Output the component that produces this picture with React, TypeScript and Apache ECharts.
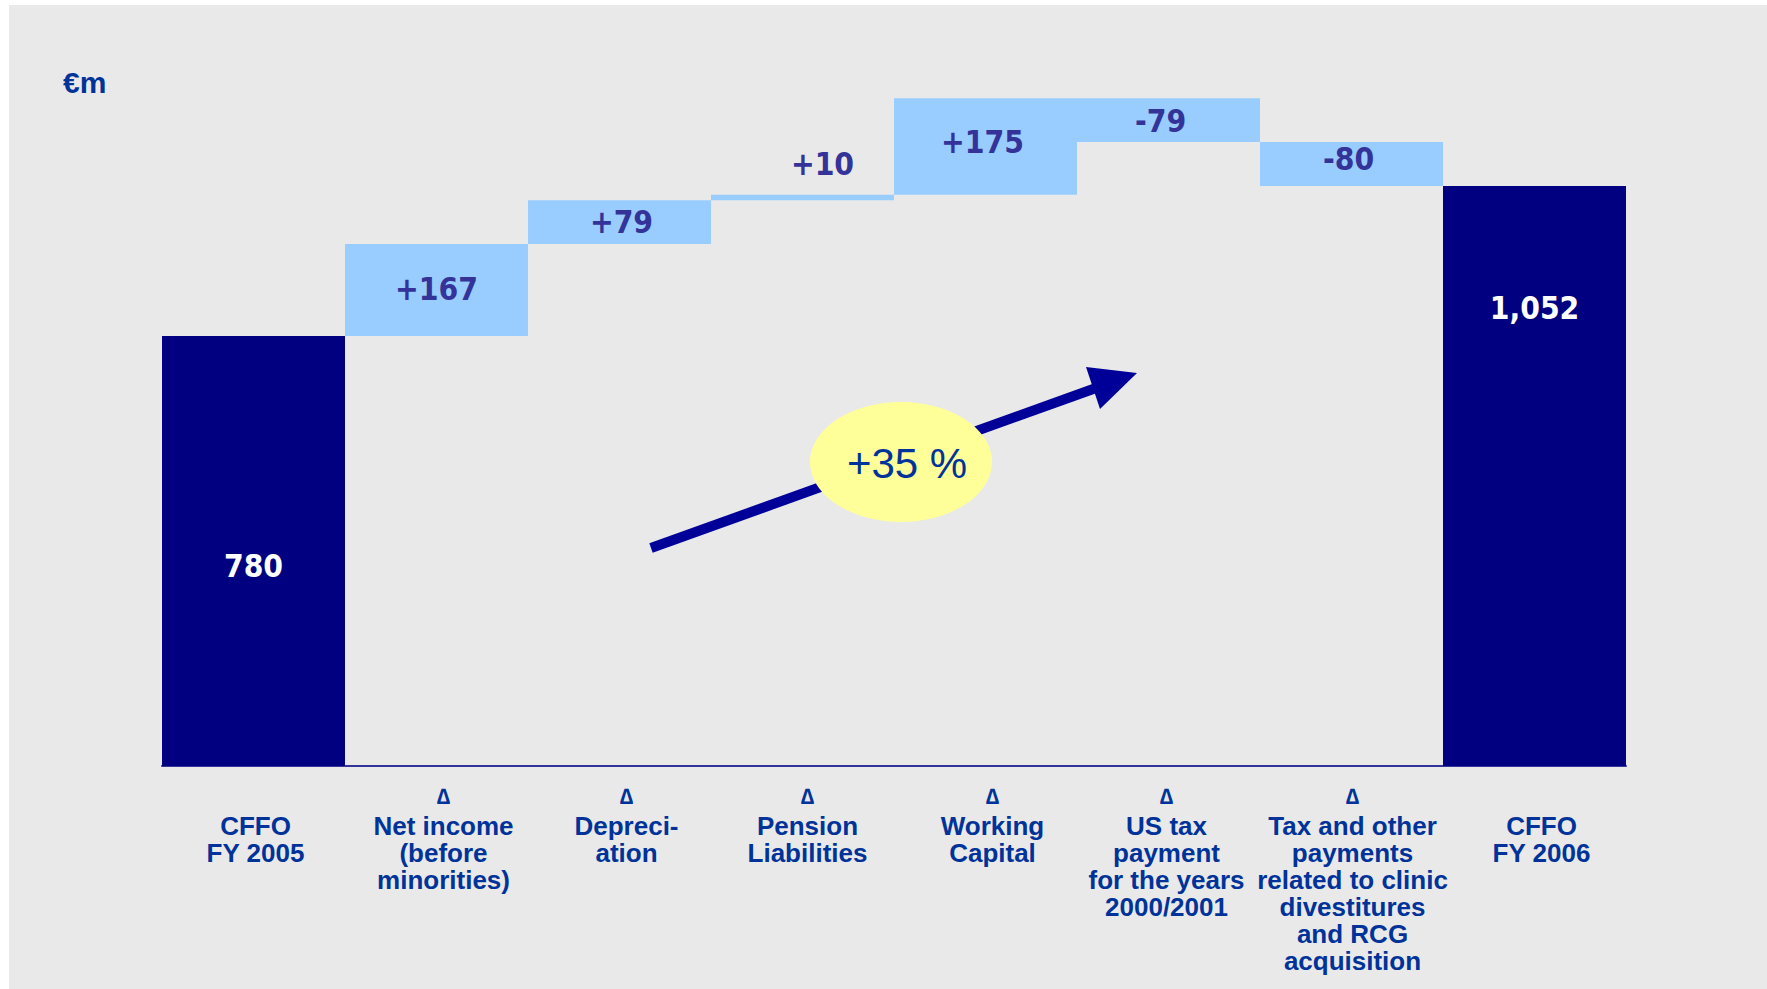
import React, { useEffect, useRef } from "react";
import * as echarts from "echarts";

// ---- data ----
const categories: string[] = [
  "CFFO\nFY 2005",
  "Net income\n(before\nminorities)",
  "Depreci-\nation",
  "Pension\nLiabilities",
  "Working\nCapital",
  "US tax\npayment\nfor the years\n2000/2001",
  "Tax and other\npayments\nrelated to clinic\ndivestitures\nand RCG\nacquisition",
  "CFFO\nFY 2006",
];
const isDelta: boolean[] = [false, true, true, true, true, true, true, false];
const startTotal = 780;
const endTotal = 1052;
const deltas: number[] = [167, 79, 10, 175, -79, -80];
const deltaLabels: string[] = ["+167", "+79", "+10", "+175", "-79", "-80"];
const totalLabels: string[] = ["780", "1,052"];
const unitLabel = "€m";
const growthLabel = "+35 %";

// ---- styles (label nudges, px) ----
const valueLabelOffsets: number[][] = [
  [0, 0],
  [0, -1],
  [2, 0],
  [20, -34],
  [-3, -5],
  [-8, 1],
  [-3, -4.5],
  [0, 0],
];
const categoryLabelShift: number[] = [2, 7, 7, 5, 7, -2, 1, 7];

const NAVY = "#000080";
const LIGHT = "#99ccff";
const LABEL_BLUE = "#003399";
const VALUE_BLUE = "#333399";
const SANS = "'Liberation Sans', Arial, sans-serif";
const VALUE_FONT = "'DejaVu Sans Condensed', 'DejaVu Sans', sans-serif";

export default function App() {
  const ref = useRef<HTMLDivElement>(null);

  useEffect(() => {
    if (!ref.current) return;
    const chart = echarts.init(ref.current, undefined, { renderer: "svg" });

    // waterfall bases and heights
    const base: number[] = [0];
    const heights: number[] = [startTotal];
    let running = startTotal;
    deltas.forEach((d) => {
      const next = running + d;
      base.push(Math.min(running, next));
      heights.push(Math.abs(d));
      running = next;
    });
    base.push(0);
    heights.push(endTotal);

    const labelTexts = [totalLabels[0], ...deltaLabels, totalLabels[1]];

    const valueData = heights.map((h, i) => {
      const total = !isDelta[i];
      const item: any = {
        value: h,
        itemStyle: { color: total ? NAVY : LIGHT },
        label: {
          show: true,
          formatter: labelTexts[i],
          color: total ? "#ffffff" : VALUE_BLUE,
          offset: valueLabelOffsets[i],
        },
      };
      if (i === 0) {
        item.label.position = ["50%", 230];
        item.label.align = "center";
        item.label.verticalAlign = "middle";
      } else if (i === heights.length - 1) {
        item.label.position = ["50%", 122];
        item.label.align = "center";
        item.label.verticalAlign = "middle";
      }
      return item;
    });

    const categoryData = categories.map((c, i) => {
      const s = categoryLabelShift[i];
      return {
        value: c,
        textStyle: {
          padding: s >= 0 ? [0, 0, 0, 2 * s] : [0, -2 * s, 0, 0],
        },
      };
    });

    const option: any = {
      animation: false,
      backgroundColor: "transparent",
      grid: { left: 162, right: 141, top: 49.3, bottom: 223 },
      xAxis: {
        type: "category",
        data: categoryData,
        axisTick: { show: false },
        axisLine: { lineStyle: { color: VALUE_BLUE, width: 2 } },
        axisLabel: {
          interval: 0,
          margin: 14,
          formatter: (value: string, idx: number) => {
            const lines = value.split("\n").map((l) => `{t|${l}}`);
            return `{d|${isDelta[idx] ? "∆" : " "}}\n` + lines.join("\n");
          },
          rich: {
            d: {
              fontSize: 22,
              lineHeight: 32,
              fontWeight: "bold",
              color: LABEL_BLUE,
              fontFamily: SANS,
            },
            t: {
              fontSize: 26,
              lineHeight: 27,
              fontWeight: "bold",
              color: LABEL_BLUE,
              fontFamily: SANS,
            },
          },
        },
      },
      yAxis: {
        type: "value",
        min: 0,
        max: 1300,
        show: false,
        splitLine: { show: false },
      },
      series: [
        {
          type: "bar",
          stack: "w",
          data: base,
          barCategoryGap: "0%",
          itemStyle: { color: "transparent" },
          silent: true,
        },
        {
          type: "bar",
          stack: "w",
          data: valueData,
          barCategoryGap: "0%",
          label: {
            show: true,
            position: "inside",
            fontFamily: VALUE_FONT,
            fontWeight: "bold",
            fontSize: 31.5,
          },
        },
      ],
      graphic: [
        {
          type: "rect",
          z: -100,
          silent: true,
          shape: { x: 9, y: 5, width: 1758, height: 984 },
          style: { fill: "#e9e9e9" },
        },
        {
          type: "text",
          z: 100,
          x: 63,
          y: 82,
          style: {
            text: unitLabel,
            fill: LABEL_BLUE,
            font: `bold 30px ${SANS}`,
            verticalAlign: "middle",
          },
        },
        {
          type: "line",
          z: 100,
          shape: { x1: 651, y1: 548, x2: 1096, y2: 388 },
          style: { stroke: "#000099", lineWidth: 10, lineCap: "butt" },
        },
        {
          type: "polygon",
          z: 101,
          shape: {
            points: [
              [1086, 367],
              [1137, 373],
              [1100, 409],
            ],
          },
          style: { fill: "#000099" },
        },
        {
          type: "ellipse",
          z: 102,
          shape: { cx: 901, cy: 462, rx: 91, ry: 60 },
          style: { fill: "#ffff99" },
        },
        {
          type: "text",
          z: 103,
          x: 907,
          y: 463,
          style: {
            text: growthLabel,
            fill: LABEL_BLUE,
            font: `42px ${SANS}`,
            align: "center",
            verticalAlign: "middle",
          },
        },
      ],
    };

    chart.setOption(option);
    return () => chart.dispose();
  }, []);

  return (
    <div
      ref={ref}
      style={{ position: "absolute", left: 0, top: 0, width: 1767, height: 989 }}
    />
  );
}
